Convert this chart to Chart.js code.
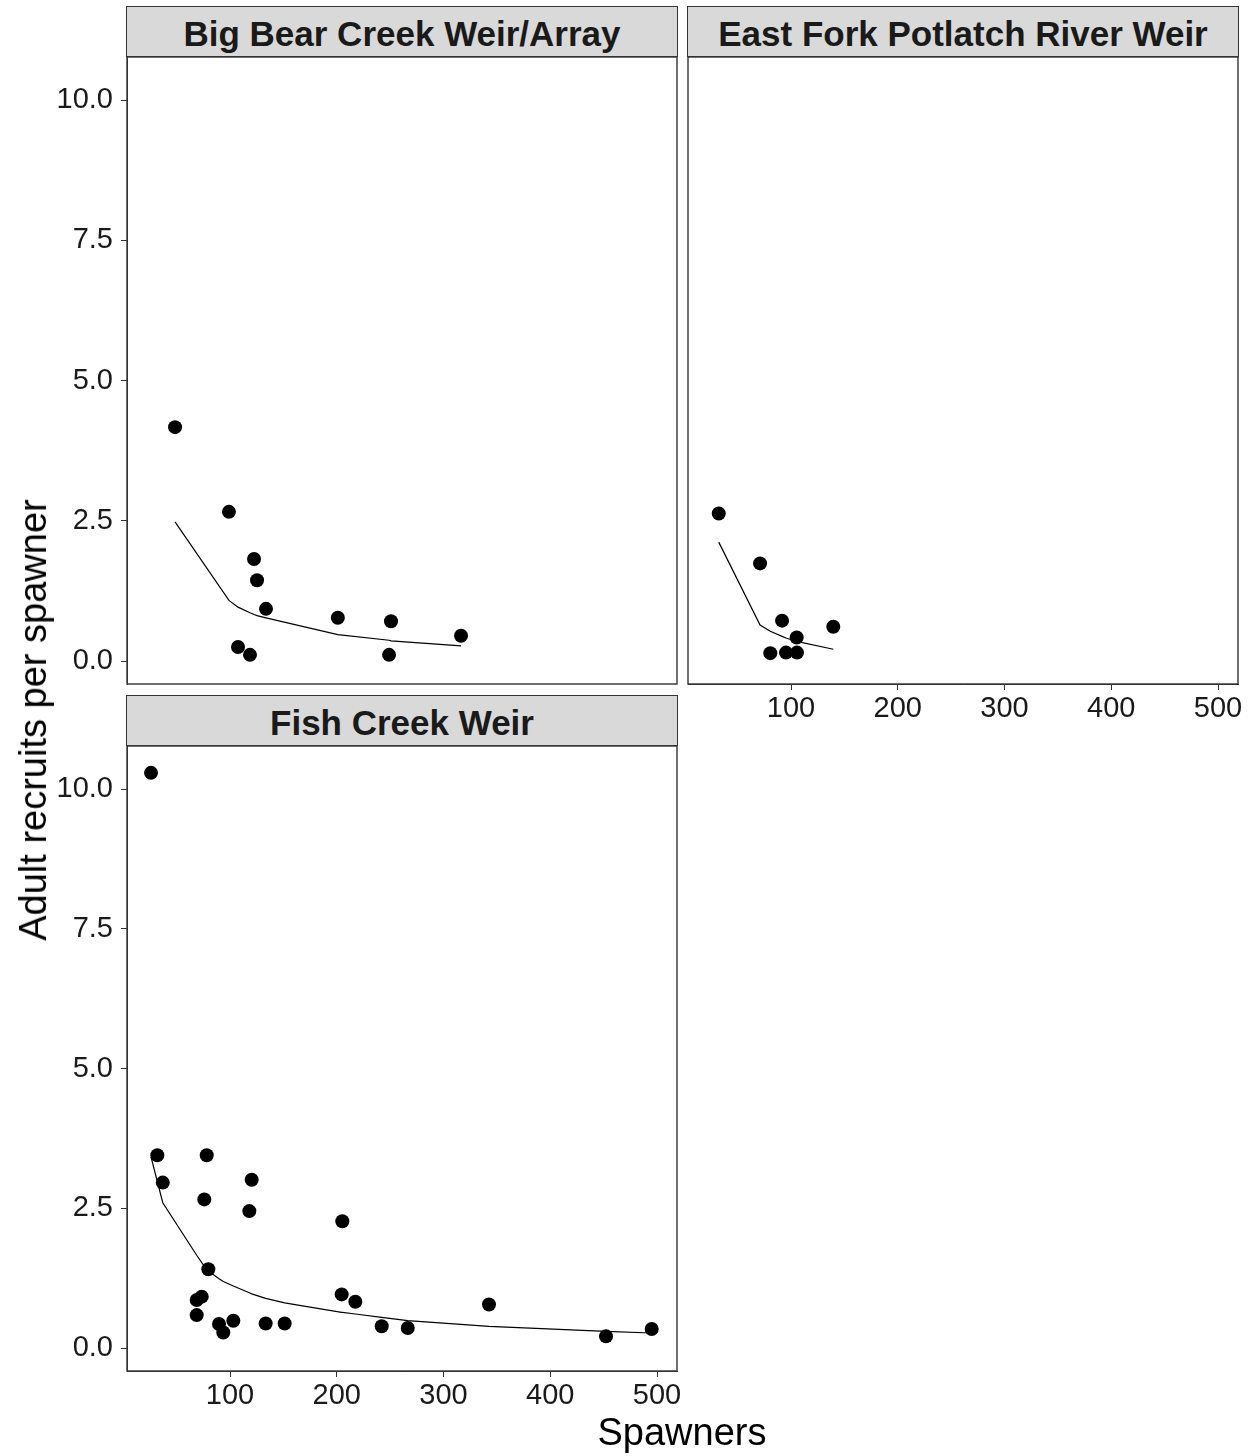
<!DOCTYPE html>
<html>
<head>
<meta charset="utf-8">
<script src="https://cdn.jsdelivr.net/npm/chart.js@4/dist/chart.umd.min.js"></script>
<style>
  body { margin: 0; background: #fff; width: 1259px; height: 1456px; position: relative; overflow: hidden;
         font-family: "Liberation Sans", Arial, sans-serif; }
  .panel { position: absolute; }
  .strip { position: absolute; box-sizing: border-box; background: #d9d9d9; border: 1px solid #333;
           font-weight: bold; font-size: 35px; color: #1a1a1a; text-align: center; line-height: 53px; }
  .axis-title { position: absolute; font-size: 38px; color: #000; line-height: 1; white-space: nowrap; }
</style>
</head>
<body>
<div class="strip" style="left:126px; top:6px; width:552px; height:51px;">Big Bear Creek Weir/Array</div>
<div class="strip" style="left:687px; top:6px; width:552px; height:51px;">East Fork Potlatch River Weir</div>
<div class="strip" style="left:126px; top:695px; width:552px; height:51px;">Fish Creek Weir</div>

<div class="panel" style="left:0; top:56px;"><canvas id="bigBear" width="678" height="629"></canvas></div>
<div class="panel" style="left:687px; top:56px;"><canvas id="eastFork" width="572" height="672"></canvas></div>
<div class="panel" style="left:0; top:745px;"><canvas id="fishCreek" width="700" height="670"></canvas></div>

<div class="axis-title" style="left:33px; top:720px; transform: translate(-50%, -50%) rotate(-90deg);">Adult recruits per spawner</div>
<div class="axis-title" style="left:682px; top:1432px; transform: translate(-50%, -50%);">Spawners</div>

<script>
// tick positions
const xTicks = [100, 200, 300, 400, 500];
const yTicks = [0, 2.5, 5, 7.5, 10];

// Big Bear Creek Weir/Array
const bigBearSpawners = [48.5, 99, 122.5, 125.3, 133.7, 107.5, 118.7, 201, 250.8, 249, 316.4];
const bigBearRPS = [4.17, 2.66, 1.82, 1.44, 0.93, 0.25, 0.11, 0.77, 0.71, 0.11, 0.45];
const bigBearFitS = [48.5, 99, 107.5, 118.7, 122.5, 125.3, 133.7, 201, 249, 250.8, 316.4];
const bigBearFitRPS = [2.48, 1.08, 0.96, 0.86, 0.83, 0.81, 0.77, 0.47, 0.37, 0.36, 0.27];

// East Fork Potlatch River Weir
const eastForkSpawners = [32.3, 71, 91.6, 139.6, 105.3, 80.6, 95.3, 105.6];
const eastForkRPS = [2.63, 1.74, 0.72, 0.61, 0.42, 0.14, 0.15, 0.15];
const eastForkFitS = [32.3, 71, 80.6, 91.6, 95.3, 105.3, 105.6, 139.6];
const eastForkFitRPS = [2.12, 0.64, 0.53, 0.44, 0.41, 0.35, 0.35, 0.21];

// Fish Creek Weir
const fishCreekSpawners = [26, 31.9, 78.2, 37, 75.9, 120.3, 118.1, 205.2, 79.7, 68.8, 73.5, 68.8,
  89.7, 93.7, 103.1, 133.4, 151.2, 204.6, 217.4, 342.6, 242.1, 266.5, 452.2, 495];
const fishCreekRPS = [10.29, 3.45, 3.45, 2.96, 2.66, 3.01, 2.45, 2.27, 1.41, 0.86, 0.92, 0.59,
  0.43, 0.28, 0.49, 0.44, 0.44, 0.96, 0.83, 0.78, 0.39, 0.36, 0.21, 0.34];
const fishCreekFitS = [26, 31.9, 37, 68.8, 73.5, 75.9, 78.2, 79.7, 89.7, 93.7, 103.1, 118.1,
  120.3, 133.4, 151.2, 204.6, 205.2, 217.4, 242.1, 266.5, 342.6, 452.2, 495];
const fishCreekFitRPS = [3.42, 2.98, 2.6, 1.66, 1.53, 1.47, 1.42, 1.38, 1.24, 1.19, 1.11, 0.99,
  0.97, 0.89, 0.81, 0.64, 0.64, 0.61, 0.55, 0.49, 0.39, 0.3, 0.27];

const FONT = '"Liberation Sans", Arial, sans-serif';
const AXIS = '#333333';

// draws the ggplot-style panel border
const panelBorder = {
  id: 'panelBorder',
  afterDraw(chart) {
    const { ctx, chartArea: a } = chart;
    ctx.save();
    ctx.strokeStyle = AXIS;
    ctx.lineWidth = 1.4;
    ctx.strokeRect(a.left, a.top, a.right - a.left, a.bottom - a.top);
    ctx.restore();
  }
};

const toPoints = (xs, ys) => xs.map((x, i) => ({ x, y: ys[i] }));

// no automatic label padding, so the panels line up exactly
function noPadding(s) {
  s.paddingLeft = 0; s.paddingRight = 0; s.paddingTop = 0; s.paddingBottom = 0;
}

function makePanel(id, spawners, rps, fitS, fitRPS, showX, showY, padding) {
  new Chart(document.getElementById(id), {
    type: 'scatter',
    data: {
      datasets: [
        {
          data: toPoints(spawners, rps),
          pointRadius: 7,
          pointBackgroundColor: '#000',
          pointBorderWidth: 0
        },
        {
          data: toPoints(fitS, fitRPS),
          showLine: true,
          pointRadius: 0,
          borderColor: '#000',
          borderWidth: 1.2,
          tension: 0
        }
      ]
    },
    options: {
      responsive: false,
      animation: false,
      layout: { padding, autoPadding: false },
      plugins: { legend: { display: false }, tooltip: { enabled: false } },
      scales: {
        x: {
          type: 'linear',
          display: showX,
          min: 3.5,
          max: 518.7,
          afterBuildTicks: s => { s.ticks = xTicks.map(v => ({ value: v })); },
          afterFit: s => { noPadding(s); if (showX) s.height = 44; },
          grid: { drawOnChartArea: false, drawTicks: true, tickLength: 6, color: AXIS },
          border: { color: AXIS, width: 1 },
          ticks: { color: '#1a1a1a', padding: 2, maxRotation: 0, font: { family: FONT, size: 29 } }
        },
        y: {
          type: 'linear',
          display: showY,
          min: -0.41,
          max: 10.77,
          afterBuildTicks: s => { s.ticks = yTicks.map(v => ({ value: v })); },
          afterFit: s => { noPadding(s); if (showY) s.width = 127; },
          grid: { drawOnChartArea: false, drawTicks: true, tickLength: 6, color: AXIS },
          border: { color: AXIS, width: 1 },
          ticks: {
            color: '#1a1a1a', padding: 8, font: { family: FONT, size: 29 },
            callback: v => Number(v).toFixed(1)
          }
        }
      }
    },
    plugins: [panelBorder]
  });
}

makePanel('bigBear', bigBearSpawners, bigBearRPS, bigBearFitS, bigBearFitRPS, false, true,
  { top: 1, right: 1, bottom: 1, left: 0 });
makePanel('eastFork', eastForkSpawners, eastForkRPS, eastForkFitS, eastForkFitRPS, true, false,
  { top: 1, right: 21, bottom: 0, left: 1 });
makePanel('fishCreek', fishCreekSpawners, fishCreekRPS, fishCreekFitS, fishCreekFitRPS, true, true,
  { top: 1, right: 23, bottom: 0, left: 0 });
</script>
</body>
</html>
